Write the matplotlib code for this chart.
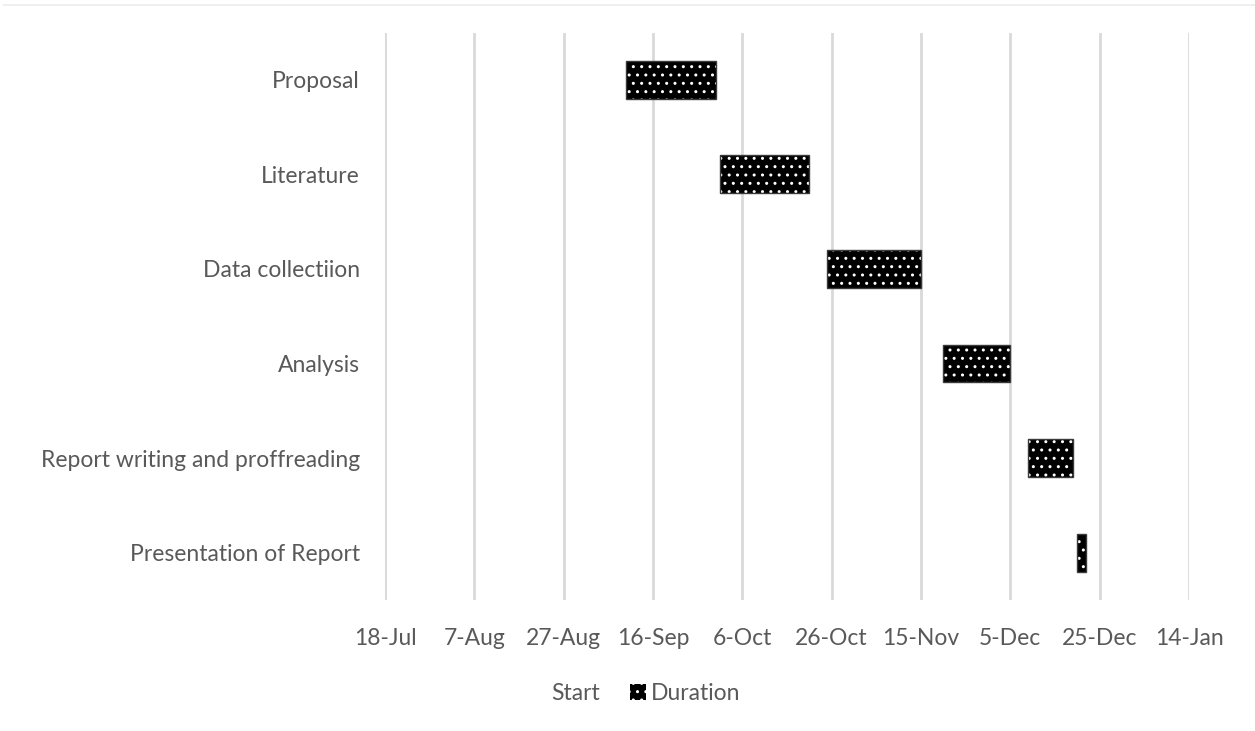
import matplotlib.pyplot as plt
import matplotlib.dates as mdates
import numpy as np
from datetime import datetime

tasks = ['Proposal', 'Literature', 'Data collectiion', 'Analysis',
         'Report writing and proffreading', 'Presentation of Report']
start_dates = ['2019-09-10', '2019-10-01', '2019-10-25', '2019-11-20',
               '2019-12-09', '2019-12-20']
durations = [20, 20, 21, 15, 10, 2]

axis_min = '2019-07-18'
axis_max = '2020-01-14'
tick_step_days = 20

plt.rcParams['font.family'] = ['Lato', 'DejaVu Sans']
plt.rcParams['hatch.color'] = 'white'
plt.rcParams['hatch.linewidth'] = 1.0
text_color = '#595959'

starts = mdates.date2num([datetime.strptime(d, '%Y-%m-%d') for d in start_dates])
lo = mdates.date2num(datetime.strptime(axis_min, '%Y-%m-%d'))
hi = mdates.date2num(datetime.strptime(axis_max, '%Y-%m-%d'))
y = np.arange(len(tasks))

fig = plt.figure(figsize=(12.55, 7.31), dpi=100)
ax = fig.add_axes([0.3068, 0.1792, 0.6406, 0.7763])

# invisible "Start" series keeps the Excel-style stacked layout
start_bars = ax.barh(y, starts - lo, left=lo, height=0.4, color='none',
                     label='Start')
dur_bars = ax.barh(y, durations, left=starts, height=0.4, color='black',
                   hatch='..', linewidth=0, label='Duration', zorder=3)
ax.barh(y, durations, left=starts, height=0.4, fill=False,
        edgecolor='#3a3a3a', linewidth=1.0, zorder=4)

ticks = np.arange(lo, hi + 1, tick_step_days)
ax.set_xlim(lo, hi)
ax.set_xticks(ticks)
ax.xaxis.set_major_formatter(mdates.DateFormatter('%-d-%b'))
ax.set_yticks(y)
ax.set_yticklabels(tasks)
ax.set_ylim(len(tasks) - 0.5, -0.5)

ax.grid(axis='x', color='#d9d9d9', linewidth=2)
ax.set_axisbelow(True)
for s in ax.spines.values():
    s.set_visible(False)
ax.tick_params(axis='both', length=0, labelsize=16.5, colors=text_color)
ax.tick_params(axis='x', pad=20)
ax.tick_params(axis='y', pad=18)

leg = fig.legend(handles=[start_bars, dur_bars], loc='center',
                 bbox_to_anchor=(0.506, 0.051), ncol=2, frameon=False,
                 fontsize=16.5, handlelength=0.7, handleheight=0.7,
                 handletextpad=0.25, columnspacing=1.3)
for t in leg.get_texts():
    t.set_color(text_color)

fig.add_artist(plt.Line2D([0.003, 1.0], [0.993, 0.993], color='#ececec',
                          linewidth=1.2, transform=fig.transFigure))

fig.savefig('out.png', dpi=100)
